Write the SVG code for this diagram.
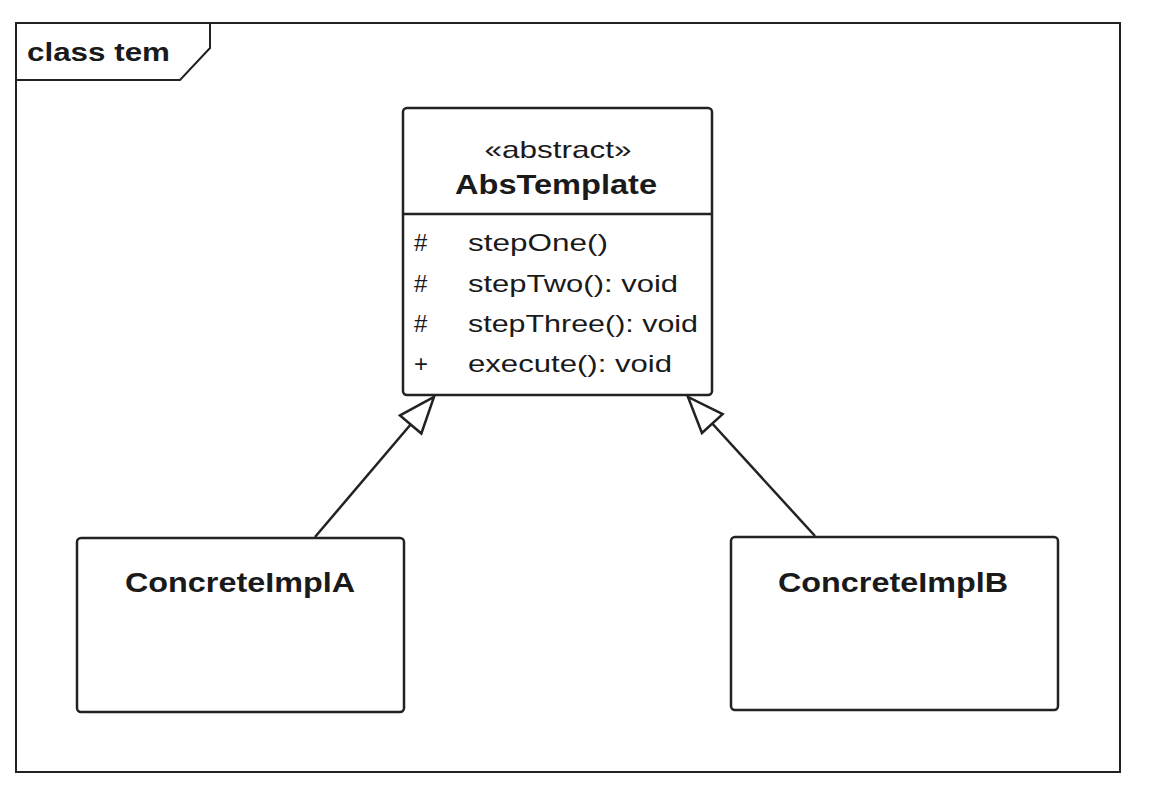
<svg xmlns="http://www.w3.org/2000/svg" width="1156" height="794" viewBox="0 0 1156 794">
<style>
.box{fill:#fff;stroke:#222;stroke-width:2.5}
.frame{fill:none;stroke:#222;stroke-width:2}
.t{font-family:"Liberation Sans",Arial,sans-serif;fill:#1a1a1a}
.b{font-weight:bold}
.conn{stroke:#222;stroke-width:2.5;fill:none}
</style>
<defs>
<marker id="gen" viewBox="-2 -2 40 32" refX="36" refY="14" markerWidth="40" markerHeight="32" markerUnits="userSpaceOnUse" orient="auto">
<path d="M0,0 L36,14 L0,28 Z" fill="#fff" stroke="#222" stroke-width="2.5" stroke-linejoin="miter"/>
</marker>
</defs>
<rect width="1156" height="794" fill="#fff"/>
<g id="frame">
<rect class="frame" x="16" y="23" width="1104" height="749"/>
<path class="frame" d="M16,80 L180,80 L210,48 L210,23"/>
<text class="t b" x="27" y="61" font-size="26" textLength="143" lengthAdjust="spacingAndGlyphs">class tem</text>
</g>
<g id="AbsTemplate">
<rect class="box" x="403" y="108" width="309" height="287" rx="4"/>
<line x1="403" y1="214" x2="712" y2="214" stroke="#222" stroke-width="2.5"/>
<text class="t" x="558" y="158" font-size="24" text-anchor="middle" textLength="147" lengthAdjust="spacingAndGlyphs">«abstract»</text>
<text class="t b" x="556" y="194" font-size="27" text-anchor="middle" textLength="202" lengthAdjust="spacingAndGlyphs">AbsTemplate</text>
<text class="t" font-size="24">
<tspan x="414" y="251">#</tspan>
<tspan x="414" y="292">#</tspan>
<tspan x="414" y="332">#</tspan>
<tspan x="414" y="372">+</tspan>
</text>
<text class="t" x="468" y="251" font-size="24" textLength="140" lengthAdjust="spacingAndGlyphs">stepOne()</text>
<text class="t" x="468" y="292" font-size="24" textLength="210" lengthAdjust="spacingAndGlyphs">stepTwo(): void</text>
<text class="t" x="468" y="332" font-size="24" textLength="230" lengthAdjust="spacingAndGlyphs">stepThree(): void</text>
<text class="t" x="468" y="372" font-size="24" textLength="204" lengthAdjust="spacingAndGlyphs">execute(): void</text>
</g>
<g id="ConcreteImplA">
<rect class="box" x="77" y="538" width="327" height="174" rx="4"/>
<text class="t b" x="240" y="592" font-size="28" text-anchor="middle" textLength="230" lengthAdjust="spacingAndGlyphs">ConcreteImplA</text>
</g>
<g id="ConcreteImplB">
<rect class="box" x="731" y="537" width="327" height="173" rx="4"/>
<text class="t b" x="893" y="592" font-size="28" text-anchor="middle" textLength="230" lengthAdjust="spacingAndGlyphs">ConcreteImplB</text>
</g>
<g id="connectors">
<line class="conn" x1="315" y1="537" x2="434" y2="397" marker-end="url(#gen)"/>
<line class="conn" x1="815" y1="536" x2="688" y2="397" marker-end="url(#gen)"/>
</g>
</svg>
